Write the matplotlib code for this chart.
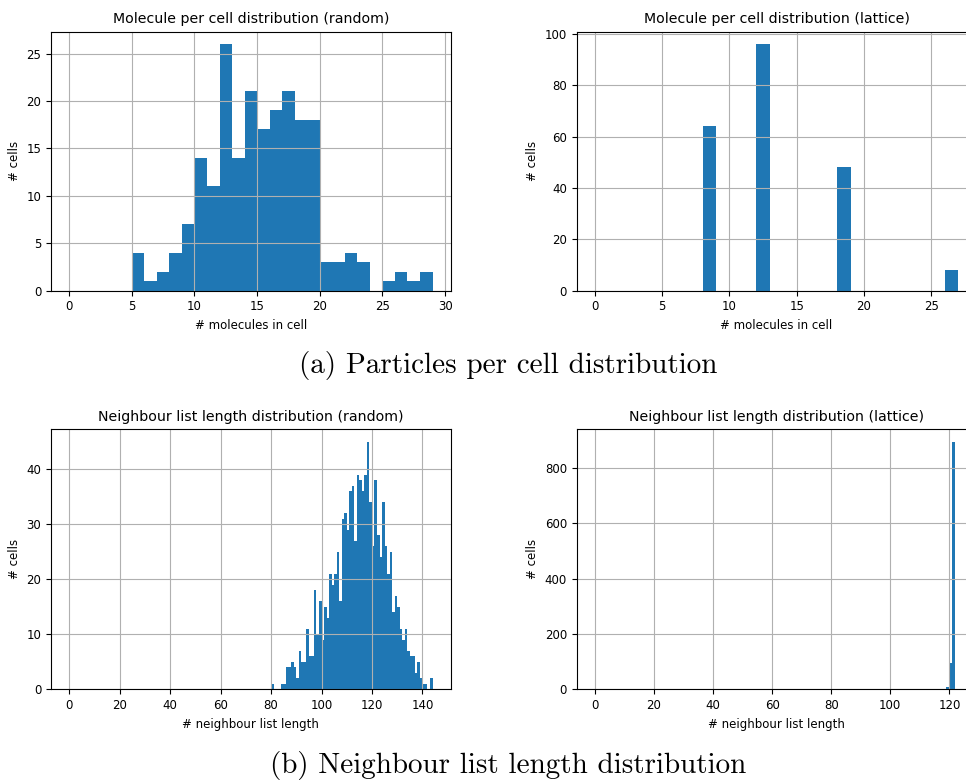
import numpy as np
import matplotlib
matplotlib.use("Agg")
import matplotlib.pyplot as plt

# molecules per cell, random placement: counts for bins [0,1), [1,2) ... [28,29]
mol_random_counts = [0, 0, 0, 0, 0, 4, 1, 2, 4, 7, 14, 11, 26, 14, 21, 17, 19, 21,
                     18, 18, 3, 3, 4, 3, 0, 1, 2, 1, 2]
mol_random_edges = list(range(0, 30))

# molecules per cell, lattice: bins 0..27
mol_lattice_bins = [8, 12, 18, 26]
mol_lattice_vals = [64, 96, 48, 8]
mol_lattice_edges = list(range(0, 28))

# neighbour list length, random: bins 0..144, nonzero from 80
nbr_random_tail = [1, 0, 0, 0, 1, 1, 4, 4, 5, 4, 2, 7, 5, 5, 11, 6, 6, 18, 10, 16,
                   9, 15, 13, 21, 19, 21, 25, 16, 31, 32, 29, 36, 37, 27, 39, 38, 36, 39, 45, 34,
                   26, 38, 28, 24, 34, 26, 21, 25, 14, 17, 15, 11, 9, 11, 7, 6, 6, 3, 5, 2,
                   1, 1, 0, 2]
nbr_random_counts = [0] * 80 + nbr_random_tail
nbr_random_edges = list(range(0, 145))

# neighbour list length, lattice: bins 0..123
nbr_lattice_bins = [119, 120, 121]
nbr_lattice_vals = [8, 95, 895]
nbr_lattice_edges = list(range(0, 124))

BLUE = "#1f77b4"
TICK = 8.5
TITLE = 10.2

fig = plt.figure(figsize=(9.66, 7.8), dpi=100)

W, H = 966.0, 780.0
def box(l, t, r, b):
    return [l / W, (H - b) / H, (r - l) / W, (b - t) / H]

ax1 = fig.add_axes(box(51, 31.7, 450.7, 290.7))
ax2 = fig.add_axes(box(576.7, 31.7, 976.4, 290.7))
ax3 = fig.add_axes(box(51, 429.3, 450.7, 689.3))
ax4 = fig.add_axes(box(576.7, 429.3, 976.4, 689.3))


def lattice_counts(edges, bins, vals):
    c = np.zeros(len(edges) - 1)
    for b, v in zip(bins, vals):
        c[edges.index(b)] = v
    return c


def draw(ax, edges, counts, title, xlabel):
    edges = np.array(edges, dtype=float)
    ax.hist(edges[:-1], bins=edges, weights=counts, color=BLUE)
    ax.grid(True, color="#b0b0b0", linewidth=0.8)
    ax.set_title(title, fontsize=TITLE)
    ax.set_xlabel(xlabel, fontsize=TICK)
    ax.set_ylabel("# cells", fontsize=TICK)
    ax.tick_params(labelsize=TICK)


draw(ax1, mol_random_edges, mol_random_counts,
     "Molecule per cell distribution (random)", "# molecules in cell")
draw(ax2, mol_lattice_edges,
     lattice_counts(mol_lattice_edges, mol_lattice_bins, mol_lattice_vals),
     "Molecule per cell distribution (lattice)", "# molecules in cell")
draw(ax3, nbr_random_edges, nbr_random_counts,
     "Neighbour list length distribution (random)", "# neighbour list length")
draw(ax4, nbr_lattice_edges,
     lattice_counts(nbr_lattice_edges, nbr_lattice_bins, nbr_lattice_vals),
     "Neighbour list length distribution (lattice)", "# neighbour list length")

ax1.set_yticks([0, 5, 10, 15, 20, 25])
ax2.set_yticks([0, 20, 40, 60, 80, 100])
ax3.set_yticks([0, 10, 20, 30, 40])
ax4.set_yticks([0, 200, 400, 600, 800])

# figure captions
fig.text(508 / W, 1 - 366 / H, "(a) Particles per cell distribution",
         family="cmr10", fontsize=21, ha="center", va="center")
fig.text(508 / W, 1 - 765 / H, "(b) Neighbour list length distribution",
         family="cmr10", fontsize=21, ha="center", va="center")

fig.savefig("out.png", dpi=100)
